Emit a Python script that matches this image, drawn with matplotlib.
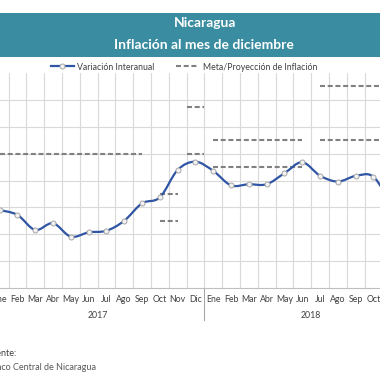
import matplotlib
matplotlib.use("Agg")
import matplotlib.pyplot as plt
from matplotlib.path import Path
from matplotlib.patches import PathPatch, Rectangle
from matplotlib.lines import Line2D
import matplotlib.transforms as mtransforms

plt.rcParams['font.family'] = ['Lato', 'DejaVu Sans']

# Data
years = ["2017", "2018"]
months = ["Ene", "Feb", "Mar", "Abr", "May", "Jun",
          "Jul", "Ago", "Sep", "Oct", "Nov", "Dic"]
# variacion interanual, Ene 2017 .. Nov 2018
inflacion = [3.90, 3.72, 3.16, 3.41, 2.91, 3.07, 3.13, 3.50, 4.15, 4.37, 5.39, 5.70,
             5.36, 4.82, 4.86, 4.86, 5.27, 5.68, 5.18, 4.96, 5.17, 5.14, 4.10]
# meta / proyeccion de inflacion
meta_start = ["Ene 2017", "Oct 2017", "Dic 2017", "Ene 2018", "Jul 2018"]
meta_end = ["Sep 2017", "Nov 2017", "Dic 2017", "Jun 2018", "Dic 2018"]
meta_low = [6.0, 3.5, 6.0, 5.5, 6.5]
meta_high = [6.0, 4.5, 7.75, 6.5, 8.5]

labels = [m + " " + y for y in years for m in months]

blue = "#2F55A4"
grey = "#808080"
grid_c = "#D9D9D9"
txt = "#404040"

W = H = 380
fig = plt.figure(figsize=(3.8, 3.8), dpi=100)

# title band
fig.patches.append(Rectangle((0, 1 - 56.7 / H), 1, 44 / H, transform=fig.transFigure,
                             facecolor="#3A8CA0", edgecolor="none", zorder=0))
fig.text(205 / W, 1 - 23 / H, "Nicaragua", color="white", fontsize=10,
         fontweight="bold", ha="center", va="center")
fig.text(204 / W, 1 - 45 / H, "Inflación al mes de diciembre", color="white",
         fontsize=10, fontweight="bold", ha="center", va="center")

# axes reach past the figure edges (the picture is a crop)
x0 = -0.4 - 17.8 * 2.5
ax = fig.add_axes([x0 / W, (H - 288) / H, 17.8 * 26 / W, 215 / H])
ax.set_xlim(-2.5, 23.5)
ax.set_ylim(1, 9)
for s in ["top", "left", "right"]:
    ax.spines[s].set_visible(False)
ax.spines["bottom"].set_color("#BFBFBF")
ax.spines["bottom"].set_linewidth(0.8)

ax.set_yticks(range(2, 9))
ax.set_yticklabels([])
ax.tick_params(axis="y", length=0)
ax.set_xticks(range(len(labels)))
ax.set_xticklabels([l.split()[0] for l in labels], fontsize=6.3, color=txt)
ax.set_xticks([i - 0.5 for i in range(-2, 25)], minor=True)
ax.tick_params(axis="x", which="both", length=0, pad=5)
ax.grid(True, axis="y", color=grid_c, lw=0.8)
ax.grid(True, axis="x", which="minor", color=grid_c, lw=0.8)
ax.set_axisbelow(True)

# year separators and labels
trans = mtransforms.blended_transform_factory(ax.transData, ax.transAxes)
for k, y in enumerate(years):
    xb = 12 * k - 0.5
    ax.add_line(Line2D([xb, xb], [0, -0.15], transform=trans, color="#A6A6A6",
                       lw=0.8, clip_on=False))
    ax.text(12 * k + 5.5, -0.13, y, transform=trans, ha="center", va="center",
            fontsize=6.3, color=txt)

# meta / proyeccion
for a, b, lo, hi in zip(meta_start, meta_end, meta_low, meta_high):
    i0, i1 = labels.index(a), labels.index(b)
    xs = [i0, i1] if i1 > i0 else [i0 - 0.5, i0 + 0.5]
    for v in {lo, hi}:
        ax.plot(xs, [v, v], color=grey, lw=1.5, ls=(0, (2.4, 1.3)), zorder=3)

# smoothed line (catmull-rom as cubic bezier)
pts = list(enumerate(inflacion))
verts = [pts[0]]
codes = [Path.MOVETO]
for k in range(len(pts) - 1):
    p0 = pts[k - 1] if k > 0 else pts[k]
    p1, p2 = pts[k], pts[k + 1]
    p3 = pts[k + 2] if k + 2 < len(pts) else pts[k + 1]
    c1 = (p1[0] + (p2[0] - p0[0]) / 6, p1[1] + (p2[1] - p0[1]) / 6)
    c2 = (p2[0] - (p3[0] - p1[0]) / 6, p2[1] - (p3[1] - p1[1]) / 6)
    verts += [c1, c2, p2]
    codes += [Path.CURVE4] * 3
ax.add_patch(PathPatch(Path(verts, codes), facecolor="none", edgecolor=blue,
                       lw=1.6, zorder=4))
ax.plot(range(len(inflacion)), inflacion, ls="none", marker="o", ms=3.6,
        mfc="#F2F2F2", mec="#A6A6A6", mew=0.7, zorder=5)

# legend
h1 = Line2D([], [], color=blue, lw=1.6, marker="o", ms=3.6, mfc="#F2F2F2",
            mec="#A6A6A6", mew=0.7)
h2 = Line2D([], [], color=grey, lw=1.5, ls=(0, (2.4, 1.3)))
fig.legend([h1, h2], ["Variación Interanual", "Meta/Proyección de Inflación"],
           loc="center", bbox_to_anchor=(184 / W, 1 - 67 / H), ncol=2,
           frameon=False, fontsize=6.3, handlelength=2.6, columnspacing=2.5,
           handletextpad=0.4, labelcolor=txt)

# source
fig.text(-14 / W, 1 - 353 / H, "Fuente:", fontsize=6.5, color=txt,
         ha="left", va="center")
fig.text(-14 / W, 1 - 367 / H, "Banco Central de Nicaragua", fontsize=6.5,
         color="#595959", ha="left", va="center")

fig.savefig("out.png", dpi=100)
